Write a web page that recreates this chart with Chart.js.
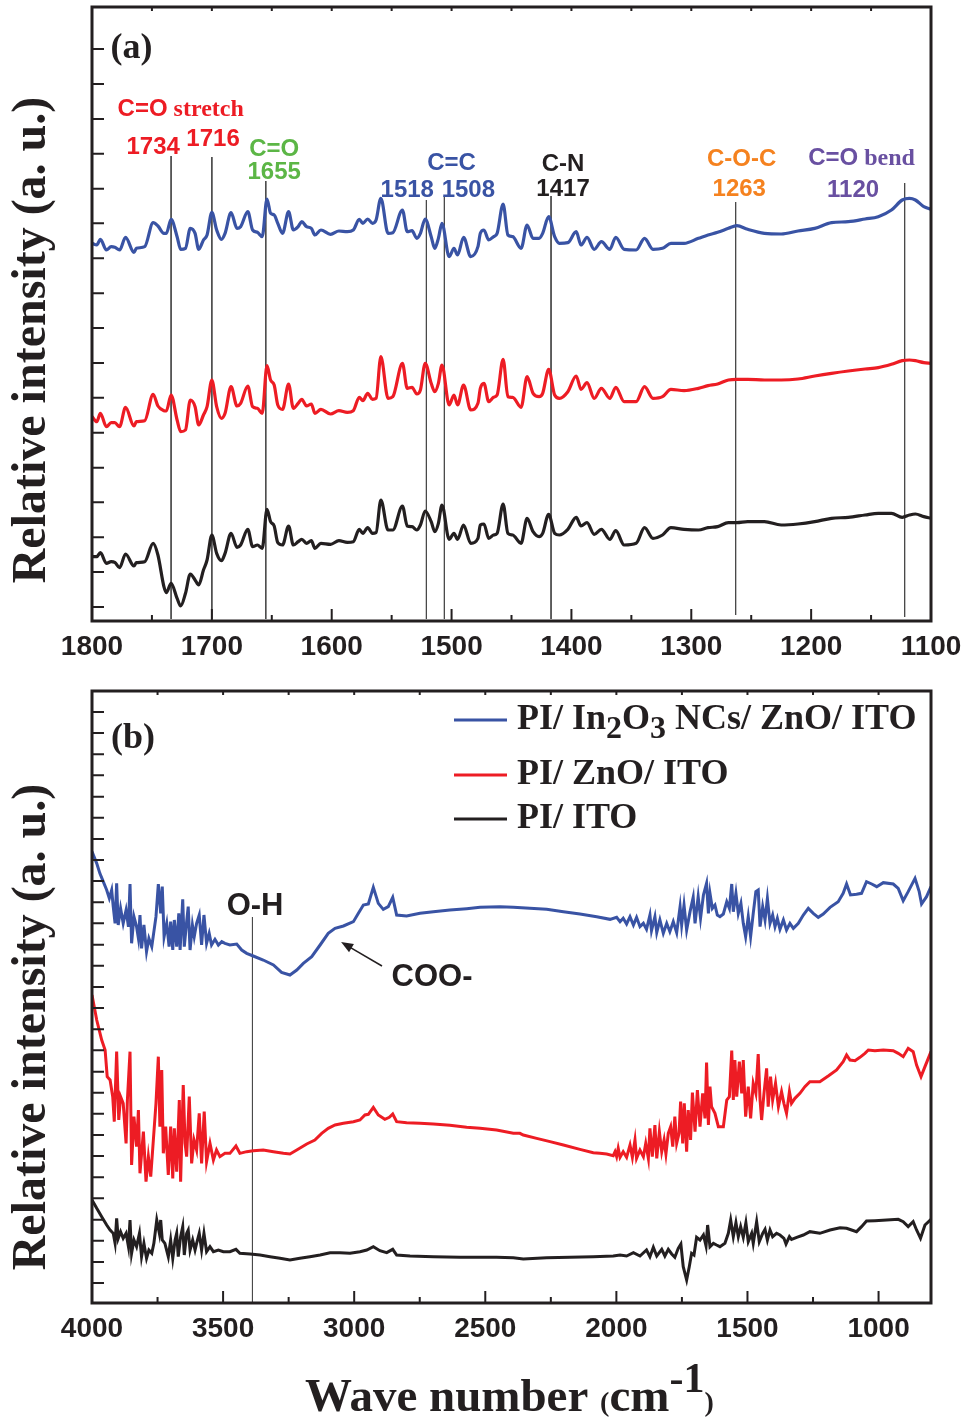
<!DOCTYPE html>
<html>
<head>
<meta charset="utf-8">
<script src="https://cdn.jsdelivr.net/npm/chart.js@4.4.1/dist/chart.umd.min.js"></script>
<style>
  html, body { margin: 0; padding: 0; background: #fff; }
  #wrap { position: relative; width: 967px; height: 1418px; }
  canvas { position: absolute; left: 0; }
  #chartA { top: 0; }
  #chartB { top: 680px; }
</style>
</head>
<body>
<div id="wrap">
  <canvas id="chartA" width="967" height="680"></canvas>
  <canvas id="chartB" width="967" height="738"></canvas>
</div>
<script>
const SANS = '"Liberation Sans", Arial, sans-serif';
const SERIF = '"Liberation Serif", "Times New Roman", serif';
const BLUE = '#3953a4', RED = '#ed1c24', BLACK = '#231f20';
const GREEN = '#5cb646', ORANGE = '#f5821f', PURPLE = '#6950a1';

const seriesNames = ['PI/ In_2O_3 NCs/ ZnO/ ITO', 'PI/ ZnO/ ITO', 'PI/ ITO'];
const seriesColors = [BLUE, RED, BLACK];

// ---- panel (a): 1800-1100 cm-1 ----
const aWave = [
  1800,1796,1793,1788,1784,1781,1777,1772,1765,1763,
  1756,1749,1745,1740,1738,1734,1729,1726,1722,1718,
  1714,1711,1707,1704,1700,1696,1692,1689,1684,1679,
  1676,1670,1666,1662,1658,1654,1651,1648,1645,1641,
  1636,1632,1628,1625,1621,1617,1614,1609,1601,1594,
  1587,1582,1577,1574,1570,1566,1563,1559,1553,1549,
  1541,1537,1533,1529,1526,1522,1517,1514,1511,1508,
  1502,1498,1495,1490,1484,1478,
  1476,1473,1469,1465,1462,1457,1453,1449,1442,1437,
  1432,1427,1424,1419,1414,1410,1403,1396,1392,1387,
  1381,1375,1368,1363,1356,1346,1339,1332,1324,1317,
  1306,1294,1286,1278,1269,1262,1253,1239,1225,1211,
  1197,1183,1169,1155,1144,1133,1124,1118,1113,1106,
  1100
];
const aBlue = [
  1133,1128,1145,1113,1123,1121,1113,1151,1106,1118,
  1123,1195,1185,1163,1163,1205,1153,1115,1118,1178,
  1163,1115,1143,1158,1226,1173,1145,1163,1225,1178,
  1183,1228,1173,1166,1153,1266,1223,1218,1193,1163,
  1228,1173,1183,1198,1183,1178,1158,1173,1160,1170,
  1168,1173,1205,1193,1206,1193,1203,1268,1163,1165,
  1233,1168,1171,1148,1163,1206,1153,1118,1148,1193,
  1093,1118,1098,1151,1093,1123,
  1163,1173,1143,1153,1163,1251,1158,1153,1118,1188,
  1148,1148,1163,1213,1153,1133,1135,1168,1128,1151,
  1115,1138,1115,1151,1115,1113,1148,1115,1118,1133,
  1133,1148,1158,1166,1178,1186,1175,1163,1161,1170,
  1178,1195,1198,1206,1213,1233,1263,1268,1263,1243,
  1235
];
const aRed = [
  613,598,623,583,595,595,583,641,585,598,
  601,680,645,631,630,678,603,568,573,663,
  643,588,618,643,723,643,608,623,703,645,
  653,705,643,638,623,766,723,708,648,635,
  711,638,653,665,645,651,623,635,621,631,
  626,631,671,661,683,665,668,793,668,673,
  773,698,701,681,693,773,713,688,713,768,
  648,678,648,708,633,653,
  698,713,658,671,678,785,673,671,641,733,
  683,673,683,755,678,668,688,735,695,715,
  668,698,668,701,658,658,703,668,673,695,
  691,698,706,711,723,725,725,723,723,726,
  735,743,750,756,760,770,781,783,781,775,
  773
];
const aBlack = [
  193,193,205,173,178,176,160,201,165,175,
  178,233,198,103,85,113,68,45,83,141,
  123,108,153,183,258,203,181,203,263,221,
  228,275,223,228,218,335,298,285,235,228,
  285,228,238,245,233,241,218,233,230,241,
  236,238,275,263,280,263,265,363,273,273,
  345,285,283,273,288,330,298,268,293,348,
  245,263,245,288,233,248,
  288,291,248,258,263,351,263,258,233,308,
  268,253,263,320,263,258,275,311,285,295,
  260,275,245,271,228,233,280,248,258,280,
  275,273,280,283,295,295,298,298,288,291,
  298,308,311,318,323,323,311,318,321,313,
  308
];
const aXTicks = [1800, 1700, 1600, 1500, 1400, 1300, 1200, 1100];
const aXMinor = [1750, 1650, 1550, 1450, 1350, 1250, 1150];
const aXTop = [1750, 1700, 1650, 1600, 1550, 1500, 1450, 1400, 1350, 1300, 1250, 1200, 1150];
const aYTicks = [42, 147, 251, 356, 460, 565, 670, 774, 879, 983, 1088, 1193, 1297, 1402, 1506, 1611, 1716];

// marker lines of the assigned bands
const aBandWave = [1734, 1700, 1655, 1521, 1506, 1417, 1263, 1122];
const aBandTop = [1395, 1392, 1320, 1263, 1275, 1275, 1257, 1314];
const aBandBottom = [6, 6, 6, 6, 6, 6, 18, 12];

// ---- panel (b): 4000-800 cm-1 ----
const bBlueWave = [
  4000,3982,3970,3957,3944,3934,3925,3919,3912,3906,
  3900,3891,3881,3870,3861,3855,3849,3840,3830,3823,
  3817,3811,3802,3792,3783,3772,3764,3756,3747,3738,
  3732,3725,3715,3706,3700,3692,3686,3677,3669,3664,
  3654,3648,3639,3633,3626,3617,3610,3601,3591,3582,
  3573,3563,3553,3544,3531,3518,3505,3493,3474,3448,
  3429,3410,3385,3347,3308,3277,3245,3219,3194,3162,
  3130,3099,3073,3041,3003,2984,2965,2946,2927,2908,
  2889,2870,2853,2838,2800,2749,2698,2635,2571,2520,
  2444,2393,2330,2266,2202,2139,2075,2024,1999,1986,
  1974,1961,1948,1935,1923,1910,1897,1885,1872,1866,
  1853,1846,1834,1821,1808,1796,1783,1770,1757,1751,
  1742,1732,1719,1707,1700,1688,1679,1668,1656,1649,
  1643,1634,1624,1615,1605,1592,1579,1569,1560,1554,
  1544,1535,1525,1516,1507,1497,1488,1478,1468,1459,
  1452,1442,1433,1424,1414,1404,1395,1386,1376,1363,
  1351,1338,1325,1306,1287,1268,1249,1230,1211,1185,
  1154,1135,1122,1107,1084,1065,1046,1026,1007,982,
  944,925,906,887,861,845,836,817,800
];
const bBlue = [
  1354,1319,1289,1264,1239,1214,1239,1189,1139,1259,
  1134,1184,1139,1179,1129,1257,1079,1159,1129,1094,
  1164,1064,1134,1054,1094,1069,1114,1159,1257,1169,
  1249,1099,1139,1069,1144,1059,1149,1069,1169,1059,
  1211,1069,1144,1189,1059,1134,1099,1139,1164,1074,
  1164,1079,1109,1074,1091,1074,1084,1079,1074,1077,
  1059,1049,1041,1029,1014,992,984,999,1019,1039,
  1074,1109,1124,1131,1144,1169,1194,1197,1247,1199,
  1181,1189,1217,1164,1161,1169,1174,1179,1183,1187,
  1189,1187,1184,1181,1174,1167,1159,1151,1157,1144,
  1154,1137,1159,1134,1157,1129,1139,1121,1164,1117,
  1159,1111,1149,1109,1139,1114,1144,1111,1189,1134,
  1194,1119,1174,1217,1139,1219,1154,1224,1259,1169,
  1229,1184,1194,1164,1159,1167,1204,1184,1257,1174,
  1229,1169,1199,1139,1099,1159,1099,1169,1234,1239,
  1129,1189,1149,1214,1139,1164,1129,1154,1121,1149,
  1119,1139,1124,1139,1164,1184,1169,1157,1167,1187,
  1204,1229,1257,1224,1226,1229,1264,1257,1249,1261,
  1257,1244,1207,1234,1274,1234,1197,1219,1249
];
const bRedWave = [
  4000,3982,3963,3950,3942,3931,3921,3915,3906,3898,
  3891,3881,3870,3865,3855,3849,3840,3830,3823,3817,
  3804,3794,3785,3776,3766,3756,3747,3741,3734,3728,
  3719,3709,3700,3692,3686,3677,3667,3662,3652,3645,
  3639,3629,3620,3611,3601,3591,3582,3572,3563,3550,
  3537,3525,3512,3493,3474,3451,3436,3410,3385,3347,
  3308,3270,3245,3219,3181,3150,3124,3099,3073,3041,
  3003,2978,2959,2946,2927,2908,2883,2866,2853,2838,
  2800,2749,2698,2635,2571,2520,
  2457,2393,2368,2355,2304,2253,2202,2139,2088,2063,
  2037,2012,2005,1999,1993,1986,1974,1961,1948,1939,
  1929,1923,1910,1897,1888,1878,1872,1863,1853,1846,
  1836,1827,1818,1811,1802,1793,1785,1777,1770,1761,
  1755,1747,1741,1732,1726,1717,1710,1700,1691,1681,
  1671,1662,1656,1649,1643,1637,1624,1611,1592,1579,
  1569,1560,1554,1548,1541,1531,1522,1516,1507,1497,
  1488,1478,1468,1459,1452,1446,1437,1427,1421,1412,
  1404,1393,1382,1370,1361,1351,1340,1332,1319,1300,
  1281,1262,1224,1192,1160,1135,1122,1109,1090,1071,
  1052,1039,1014,982,944,925,906,887,868,855,
  838,823,800
];
const bRed = [
  924,849,789,759,679,669,619,544,754,549,
  619,599,479,609,754,414,559,469,579,389,
  514,364,439,379,489,599,739,529,699,449,
  529,384,529,374,524,394,609,364,654,479,
  439,619,419,489,459,569,419,574,424,479,
  429,459,439,449,449,471,449,454,457,459,
  454,449,447,459,477,489,509,524,534,539,
  544,549,564,566,587,564,551,557,567,544,
  541,539,537,533,527,524,
  519,509,509,504,494,484,474,461,451,449,
  447,442,454,439,464,437,454,437,474,437,
  489,434,459,439,479,434,524,439,534,434,
  514,454,489,447,509,529,469,559,479,509,
  604,479,599,454,579,489,631,514,639,529,
  629,554,721,534,649,589,569,529,529,609,
  619,757,609,729,619,724,629,729,559,649,
  554,659,629,747,609,549,629,704,589,679,
  609,659,589,634,599,569,634,599,614,629,
  649,664,664,681,699,724,744,729,727,737,
  749,759,757,759,757,749,739,764,754,714,
  679,709,754
];
const bBlackWave = [
  4000,3982,3963,3944,3931,3919,3912,3906,3900,3891,
  3881,3870,3861,3855,3849,3840,3830,3819,3811,3802,
  3792,3783,3772,3764,3753,3743,3738,3732,3722,3709,
  3700,3692,3683,3677,3671,3662,3654,3648,3639,3633,
  3626,3616,3607,3601,3591,3582,3573,3563,3550,3537,
  3518,3499,3474,3451,3436,3397,3359,3321,3283,3245,
  3207,3169,3130,3092,3054,3016,2978,2952,2927,2902,
  2876,2853,2838,2787,2698,2596,2520,
  2457,2393,2355,2266,2177,2088,2012,1986,1961,1935,
  1910,1885,1872,1859,1846,1827,1815,1802,1789,1777,
  1764,1754,1745,1732,1722,1713,1704,1694,1681,1668,
  1658,1652,1643,1630,1618,1605,1586,1573,1564,1554,
  1544,1535,1526,1516,1506,1497,1484,1478,1465,1455,
  1442,1433,1424,1414,1404,1389,1376,1361,1353,1340,
  1332,1312,1287,1262,1224,1185,1147,1122,1103,1084,
  1065,1046,1014,969,925,906,887,868,855,840,
  823,800
];
const bBlack = [
  309,284,259,234,219,209,179,254,194,214,
  194,209,169,249,149,189,169,209,139,179,
  134,159,149,179,249,209,249,189,179,139,
  189,134,189,209,139,199,229,144,209,219,
  159,189,159,179,209,159,209,154,169,154,
  159,154,154,161,149,147,144,139,134,129,
  134,139,144,151,151,149,154,159,169,157,
  151,161,144,141,139,137,137,
  137,136,132,136,137,139,141,144,141,151,
  141,159,139,167,141,161,141,161,147,137,
  164,177,109,69,109,149,144,197,189,204,
  171,234,169,179,174,169,179,209,249,199,
  241,199,229,197,241,184,209,179,244,184,
  209,221,189,219,199,209,204,194,177,199,
  191,197,204,214,209,219,226,224,219,214,
  229,246,247,249,251,244,229,244,219,194,
  234,251
];
const bXTicks = [4000, 3500, 3000, 2500, 2000, 1500, 1000];
const bXMinor = [3750, 3250, 2750, 2250, 1750, 1250];
const bXTop = [3750, 3500, 3250, 3000, 2750, 2500, 2250, 2000, 1750, 1500, 1250, 1000];
const bYTicks = [60, 123, 187, 250, 314, 377, 441, 504, 568, 631, 694, 758, 821, 885, 948,
                 1012, 1075, 1139, 1202, 1266, 1329, 1392, 1456, 1519, 1583, 1646, 1710, 1773];
const bOHWave = 3388, bOHTop = 1158;
const bArrowFrom = [2894, 1011], bArrowTo = [3050, 1083];

// text labels, placed at (wave number, intensity baseline)
const aNotes = [
  { t: 'C=O', tail: ' stretch', c: RED, wn: 1726, v: 1516 },
  { t: '1734', c: RED, wn: 1749, v: 1402 },
  { t: '1716', c: RED, wn: 1699, v: 1426 },
  { t: 'C=O', c: GREEN, wn: 1648, v: 1396 },
  { t: '1655', c: GREEN, wn: 1648, v: 1327 },
  { t: 'C=C', c: BLUE, wn: 1500, v: 1354 },
  { t: '1518', c: BLUE, wn: 1537, v: 1273 },
  { t: '1508', c: BLUE, wn: 1486, v: 1273 },
  { t: 'C-N', c: BLACK, wn: 1407, v: 1351 },
  { t: '1417', c: BLACK, wn: 1407, v: 1276 },
  { t: 'C-O-C', c: ORANGE, wn: 1258, v: 1366 },
  { t: '1263', c: ORANGE, wn: 1260, v: 1276 },
  { t: 'C=O', tail: ' bend', c: PURPLE, wn: 1158, v: 1369 },
  { t: '1120', c: PURPLE, wn: 1165, v: 1273 }
];

const bold = (size, fam) => 'bold ' + size + 'px ' + fam;

function zip(xs, ys) { return xs.map((x, i) => ({ x: x, y: ys[i] })); }

function spectrum(label, xs, ys, color, width, smooth) {
  return {
    label: label, data: zip(xs, ys), borderColor: color, borderWidth: width,
    pointRadius: 0, fill: false, tension: 0, order: 1,
    cubicInterpolationMode: smooth ? 'monotone' : 'default'
  };
}
function bandLine(wn, top, bottom) {
  return { data: [{ x: wn, y: top }, { x: wn, y: bottom }], borderColor: '#4a4a4a',
           borderWidth: 1, pointRadius: 0, order: 5 };
}

// draw pieces of text with different fonts side by side, centred on x
function drawParts(ctx, parts, x, y, left) {
  let w = 0;
  parts.forEach(p => { ctx.font = p.font; p.w = ctx.measureText(p.text).width; w += p.w; });
  let cx = left ? x : x - w / 2;
  parts.forEach(p => { ctx.font = p.font; ctx.fillText(p.text, cx, y + (p.dy || 0)); cx += p.w; });
}

function yTitle(ctx, cy) {
  ctx.save();
  ctx.translate(45, cy);
  ctx.rotate(-Math.PI / 2);
  ctx.font = bold(48, SERIF);
  ctx.fillStyle = BLACK;
  ctx.textAlign = 'center';
  ctx.textBaseline = 'alphabetic';
  ctx.fillText('Relative intensity (a. u.)', 0, 0);
  ctx.restore();
}

// frame and inward tick marks
function framePlugin(major, minor, top, yTicks) {
  return {
    id: 'frame',
    afterDatasetsDraw(chart) {
      const ctx = chart.ctx, a = chart.chartArea, x = chart.scales.x, y = chart.scales.y;
      ctx.save();
      ctx.strokeStyle = BLACK;
      ctx.lineWidth = 2;
      ctx.beginPath();
      major.forEach(v => { const p = x.getPixelForValue(v); ctx.moveTo(p, a.bottom); ctx.lineTo(p, a.bottom - 12); });
      minor.forEach(v => { const p = x.getPixelForValue(v); ctx.moveTo(p, a.bottom); ctx.lineTo(p, a.bottom - 6); });
      top.forEach(v => { const p = x.getPixelForValue(v); ctx.moveTo(p, a.top); ctx.lineTo(p, a.top + 4); });
      yTicks.forEach(v => { const p = y.getPixelForValue(v); ctx.moveTo(a.left, p); ctx.lineTo(a.left + 12, p); });
      ctx.stroke();
      ctx.lineWidth = 3;
      ctx.strokeRect(a.left, a.top, a.right - a.left, a.bottom - a.top);
      ctx.restore();
    }
  };
}

const notesA = {
  id: 'notesA',
  afterDraw(chart) {
    const ctx = chart.ctx, x = chart.scales.x, y = chart.scales.y;
    ctx.save();
    ctx.textBaseline = 'alphabetic';
    aNotes.forEach(n => {
      ctx.fillStyle = n.c;
      const parts = [{ text: n.t, font: bold(24, SANS) }];
      if (n.tail) parts.push({ text: n.tail, font: bold(24, SERIF) });
      drawParts(ctx, parts, x.getPixelForValue(n.wn), y.getPixelForValue(n.v));
    });
    ctx.fillStyle = BLACK;
    drawParts(ctx, [{ text: '(a)', font: bold(36, SERIF) }], x.getPixelForValue(1767), y.getPixelForValue(1689));
    yTitle(ctx, 340);
    ctx.restore();
  }
};

const notesB = {
  id: 'notesB',
  afterDraw(chart) {
    const ctx = chart.ctx, a = chart.chartArea, x = chart.scales.x, y = chart.scales.y;
    ctx.save();
    ctx.textBaseline = 'alphabetic';
    ctx.fillStyle = BLACK;
    drawParts(ctx, [{ text: '(b)', font: bold(36, SERIF) }], x.getPixelForValue(3844), y.getPixelForValue(1665));
    drawParts(ctx, [{ text: 'O-H', font: bold(31, SANS) }], x.getPixelForValue(3378), y.getPixelForValue(1164));
    drawParts(ctx, [{ text: 'COO-', font: bold(31, SANS) }], x.getPixelForValue(2703), y.getPixelForValue(951));

    // arrow to the COO- shoulder
    const x0 = x.getPixelForValue(bArrowFrom[0]), y0 = y.getPixelForValue(bArrowFrom[1]);
    const x1 = x.getPixelForValue(bArrowTo[0]), y1 = y.getPixelForValue(bArrowTo[1]);
    const ang = Math.atan2(y1 - y0, x1 - x0);
    ctx.strokeStyle = BLACK; ctx.lineWidth = 1.5;
    ctx.beginPath(); ctx.moveTo(x0, y0); ctx.lineTo(x1 - 8 * Math.cos(ang), y1 - 8 * Math.sin(ang)); ctx.stroke();
    ctx.beginPath();
    ctx.moveTo(x1, y1);
    ctx.lineTo(x1 - 13 * Math.cos(ang - 0.38), y1 - 13 * Math.sin(ang - 0.38));
    ctx.lineTo(x1 - 13 * Math.cos(ang + 0.38), y1 - 13 * Math.sin(ang + 0.38));
    ctx.closePath(); ctx.fill();

    // legend
    const lineY = [a.top + 29, a.top + 84, a.top + 128];
    seriesNames.forEach((name, i) => {
      ctx.strokeStyle = seriesColors[i]; ctx.lineWidth = 3;
      ctx.beginPath(); ctx.moveTo(a.left + 362, lineY[i]); ctx.lineTo(a.left + 415, lineY[i]); ctx.stroke();
      const parts = name.split(/(_\d)/).filter(s => s).map(s => s[0] === '_'
        ? { text: s.slice(1), font: bold(32, SERIF), dy: 9 }
        : { text: s, font: bold(36, SERIF) });
      ctx.fillStyle = BLACK;
      drawParts(ctx, parts, a.left + 425, lineY[i] + 9, true);
    });

    // axis titles
    yTitle(ctx, 347);
    drawParts(ctx, [
      { text: 'Wave number ', font: bold(47, SERIF) },
      { text: '(', font: bold(28, SERIF) },
      { text: 'cm', font: bold(47, SERIF) },
      { text: '-1', font: bold(42, SERIF), dy: -19 },
      { text: ')', font: bold(28, SERIF) }
    ], 305, 731, true);
    ctx.restore();
  }
};

function axisOptions(min, max, ticks, height) {
  return {
    type: 'linear', reverse: true, min: min, max: max,
    afterBuildTicks: s => { s.ticks = ticks.map(v => ({ value: v })); },
    afterFit: s => { s.height = height; s.paddingLeft = 0; s.paddingRight = 0; },
    grid: { display: false, drawTicks: false }, border: { display: false },
    ticks: { font: { family: SANS, size: 28, weight: 'bold', lineHeight: 1 }, color: BLACK,
             padding: 12, maxRotation: 0, autoSkip: false, callback: v => String(v) }
  };
}
function yOptions(max, ticks) {
  return {
    type: 'linear', min: 0, max: max,
    afterBuildTicks: s => { s.ticks = ticks.map(v => ({ value: v })); },
    afterFit: s => { s.width = 92; },
    grid: { display: false, drawTicks: false }, border: { display: false },
    ticks: { display: false }
  };
}

const common = {
  responsive: false, animation: false, devicePixelRatio: 1,
  plugins: { legend: { display: false }, tooltip: { enabled: false } }
};

new Chart(document.getElementById('chartA'), {
  type: 'line',
  data: {
    datasets: [
      spectrum(seriesNames[0], aWave, aBlue, BLUE, 3.2, true),
      spectrum(seriesNames[1], aWave, aRed, RED, 3.2, true),
      spectrum(seriesNames[2], aWave, aBlack, BLACK, 3.2, true)
    ].concat(aBandWave.map((w, i) => bandLine(w, aBandTop[i], aBandBottom[i])))
  },
  options: Object.assign({}, common, {
    layout: { padding: { top: 7, right: 36, left: 0, bottom: 0 } },
    scales: { x: axisOptions(1100, 1800, aXTicks, 59), y: yOptions(1842, aYTicks) }
  }),
  plugins: [framePlugin(aXTicks, aXMinor, aXTop, aYTicks), notesA]
});

new Chart(document.getElementById('chartB'), {
  type: 'line',
  data: {
    datasets: [
      spectrum(seriesNames[0], bBlueWave, bBlue, BLUE, 3, false),
      spectrum(seriesNames[1], bRedWave, bRed, RED, 3, false),
      spectrum(seriesNames[2], bBlackWave, bBlack, BLACK, 3, false),
      bandLine(bOHWave, bOHTop, 0)
    ]
  },
  options: Object.assign({}, common, {
    layout: { padding: { top: 11, right: 36, left: 0, bottom: 0 } },
    scales: { x: axisOptions(800, 4000, bXTicks, 115), y: yOptions(1836, bYTicks) }
  }),
  plugins: [framePlugin(bXTicks, bXMinor, bXTop, bYTicks), notesB]
});
</script>
</body>
</html>
